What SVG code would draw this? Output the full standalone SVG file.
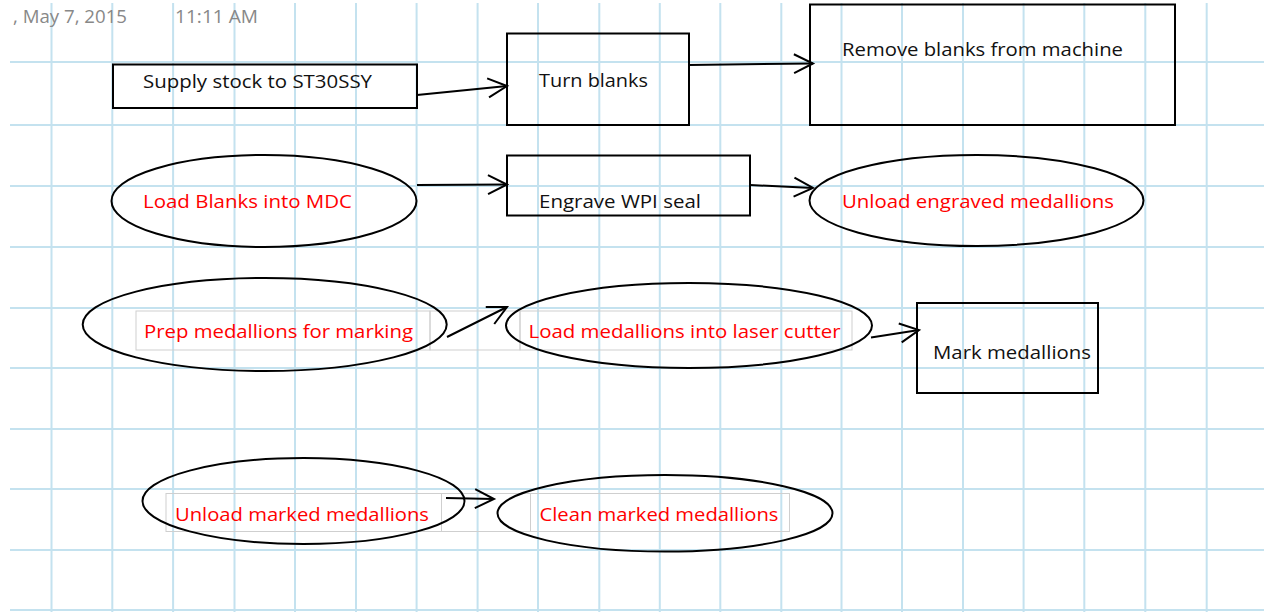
<svg xmlns="http://www.w3.org/2000/svg" width="1264" height="612" viewBox="0 0 1264 612">
  <style>
    .grid line { stroke: #c4e2ef; stroke-width: 2; }
    .box { fill: none; stroke: #000; stroke-width: 2; }
    .oval { fill: none; stroke: #000; stroke-width: 2; }
    .frame { fill: none; stroke: #cfcfcf; stroke-width: 1; }
    .lbl { font-family: "Open Sans", "Liberation Sans", sans-serif; font-size: 18.5px; fill: #111; }
    .red { fill: #ff0000; }
    .stamp { font-family: "Open Sans", "Liberation Sans", sans-serif; font-size: 18.5px; fill: #888; }
    .conn line { stroke: #000; stroke-width: 2; marker-end: url(#vee); }
  </style>
  <defs>
    <marker id="vee" viewBox="-22 -12 24 24" refX="0" refY="0" markerWidth="24" markerHeight="24" markerUnits="userSpaceOnUse" orient="auto" overflow="visible">
      <path d="M-19,-9.5 L0,0 L-19,9.5" fill="none" stroke="#000" stroke-width="2"/>
    </marker>
  </defs>

  <rect width="1264" height="612" fill="#fff"/>

  <!-- ruled page grid -->
  <g class="grid">
    <line x1="10" y1="62" x2="1264" y2="62"/>
    <line x1="10" y1="125" x2="1264" y2="125"/>
    <line x1="10" y1="186" x2="1264" y2="186"/>
    <line x1="10" y1="247" x2="1264" y2="247"/>
    <line x1="10" y1="308" x2="1264" y2="308"/>
    <line x1="10" y1="368" x2="1264" y2="368"/>
    <line x1="10" y1="429" x2="1264" y2="429"/>
    <line x1="10" y1="489" x2="1264" y2="489"/>
    <line x1="10" y1="550" x2="1264" y2="550"/>
    <line x1="10" y1="610" x2="1264" y2="610"/>
    <line x1="51.5" y1="3" x2="51.5" y2="612"/>
    <line x1="112.3" y1="3" x2="112.3" y2="612"/>
    <line x1="173.1" y1="3" x2="173.1" y2="612"/>
    <line x1="234.5" y1="3" x2="234.5" y2="612"/>
    <line x1="295" y1="3" x2="295" y2="612"/>
    <line x1="356" y1="3" x2="356" y2="612"/>
    <line x1="416.6" y1="3" x2="416.6" y2="612"/>
    <line x1="477.6" y1="3" x2="477.6" y2="612"/>
    <line x1="538" y1="3" x2="538" y2="612"/>
    <line x1="599.3" y1="3" x2="599.3" y2="612"/>
    <line x1="659.8" y1="3" x2="659.8" y2="612"/>
    <line x1="720.3" y1="3" x2="720.3" y2="612"/>
    <line x1="781.3" y1="3" x2="781.3" y2="612"/>
    <line x1="841.5" y1="3" x2="841.5" y2="612"/>
    <line x1="902" y1="3" x2="902" y2="612"/>
    <line x1="963" y1="3" x2="963" y2="612"/>
    <line x1="1023.6" y1="3" x2="1023.6" y2="612"/>
    <line x1="1084.3" y1="3" x2="1084.3" y2="612"/>
    <line x1="1145.3" y1="3" x2="1145.3" y2="612"/>
    <line x1="1206.7" y1="3" x2="1206.7" y2="612"/>
  </g>

  <!-- page timestamp -->
  <g id="timestamp">
    <text class="stamp" x="13" y="23" textLength="114" lengthAdjust="spacingAndGlyphs">, May 7, 2015</text>
    <text class="stamp" x="175" y="23" textLength="83" lengthAdjust="spacingAndGlyphs">11:11 AM</text>
  </g>

  <!-- note-container outlines around the red labels -->
  <g id="frames">
    <rect class="frame" x="136" y="311" width="294" height="39"/>
    <rect class="frame" x="430" y="311" width="90" height="39"/>
    <rect class="frame" x="520" y="311" width="332" height="39"/>
    <rect class="frame" x="166" y="493.5" width="275.5" height="38"/>
    <rect class="frame" x="441.5" y="493.5" width="89" height="38"/>
    <rect class="frame" x="530.5" y="493.5" width="259" height="38"/>
  </g>

  <g id="supply-stock">
    <rect class="box" x="113" y="64.5" width="304" height="43.5"/>
    <text class="lbl" x="143" y="88" textLength="229" lengthAdjust="spacingAndGlyphs">Supply stock to ST30SSY</text>
  </g>

  <g id="turn-blanks">
    <rect class="box" x="507" y="33.5" width="182" height="91.5"/>
    <text class="lbl" x="539" y="86.5" textLength="109" lengthAdjust="spacingAndGlyphs">Turn blanks</text>
  </g>

  <g id="remove-blanks">
    <rect class="box" x="810" y="4.5" width="365" height="120.5"/>
    <text class="lbl" x="842" y="55.5" textLength="281" lengthAdjust="spacingAndGlyphs">Remove blanks from machine</text>
  </g>

  <g id="load-blanks">
    <ellipse class="oval" cx="264" cy="201" rx="152.5" ry="46"/>
    <text class="lbl red" x="143" y="208" textLength="209" lengthAdjust="spacingAndGlyphs">Load Blanks into MDC</text>
  </g>

  <g id="engrave-seal">
    <rect class="box" x="507" y="155.5" width="243" height="60"/>
    <text class="lbl" x="539" y="208" textLength="162" lengthAdjust="spacingAndGlyphs">Engrave WPI seal</text>
  </g>

  <g id="unload-engraved">
    <ellipse class="oval" cx="976.5" cy="200.5" rx="167" ry="45.5"/>
    <text class="lbl red" x="842" y="208" textLength="272" lengthAdjust="spacingAndGlyphs">Unload engraved medallions</text>
  </g>

  <g id="prep-medallions">
    <ellipse class="oval" cx="264.7" cy="324.5" rx="182" ry="46.5"/>
    <text class="lbl red" x="144" y="337.5" textLength="269" lengthAdjust="spacingAndGlyphs">Prep medallions for marking</text>
  </g>

  <g id="load-laser">
    <ellipse class="oval" cx="689" cy="325.5" rx="183" ry="42.5"/>
    <text class="lbl red" x="528.5" y="337.5" textLength="312" lengthAdjust="spacingAndGlyphs">Load medallions into laser cutter</text>
  </g>

  <g id="mark-medallions">
    <rect class="box" x="917" y="303" width="181" height="90"/>
    <text class="lbl" x="933" y="359" textLength="158" lengthAdjust="spacingAndGlyphs">Mark medallions</text>
  </g>

  <g id="unload-marked">
    <ellipse class="oval" cx="303.5" cy="501" rx="161" ry="43"/>
    <text class="lbl red" x="175" y="521" textLength="254" lengthAdjust="spacingAndGlyphs">Unload marked medallions</text>
  </g>

  <g id="clean-marked">
    <ellipse class="oval" cx="665" cy="513.3" rx="167.5" ry="38.3"/>
    <text class="lbl red" x="539.5" y="521" textLength="239" lengthAdjust="spacingAndGlyphs">Clean marked medallions</text>
  </g>

  <!-- connectors -->
  <g class="conn" id="connectors">
    <line x1="417" y1="95" x2="507" y2="86"/>
    <line x1="689" y1="65" x2="813" y2="63.5"/>
    <line x1="417" y1="185" x2="507" y2="184.5"/>
    <line x1="750" y1="185" x2="813" y2="188"/>
    <line x1="447" y1="337" x2="507" y2="307"/>
    <line x1="871" y1="337.5" x2="919" y2="330"/>
    <line x1="446" y1="498" x2="494" y2="499"/>
  </g>
</svg>
